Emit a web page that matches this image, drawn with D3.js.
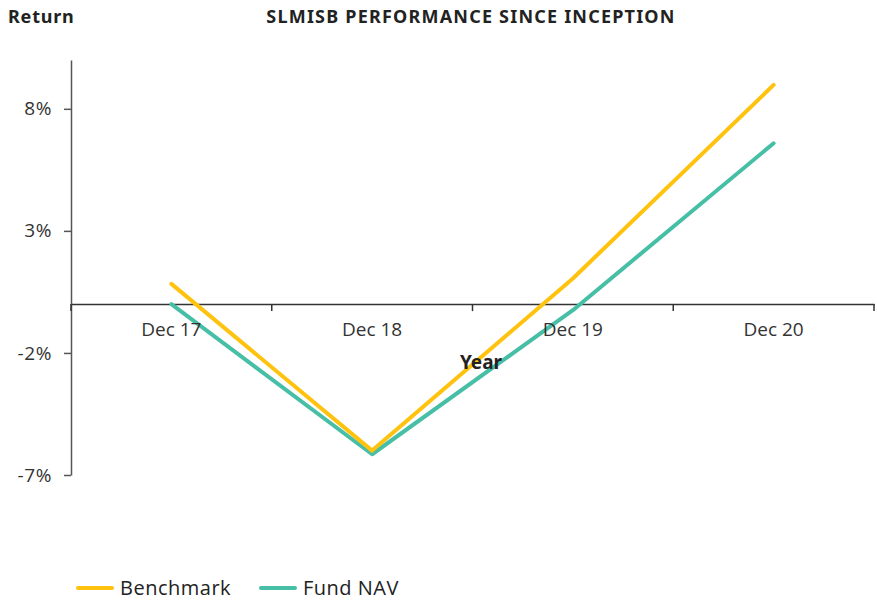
<!DOCTYPE html>
<html>
<head>
<meta charset="utf-8">
<script src="https://cdn.jsdelivr.net/npm/d3@7"></script>
<style>
body { margin: 0; background: #fff; }
svg { display: block; font-family: "Noto Sans", "Open Sans", sans-serif; }
</style>
</head>
<body>
<svg id="chart" width="877" height="600"></svg>
<script>
const categories = ["Dec 17", "Dec 18", "Dec 19", "Dec 20"];
const benchmark = [0.83, -6.0, 1.05, 8.98];
const fundNav = [0.0, -6.15, -0.25, 6.59];
const yTicks = [8, 3, -2, -7];
const seriesNames = ["Benchmark", "Fund NAV"];
const colors = ["#FFC20E", "#47BFA6"];

const svg = d3.select("#chart");
const mLeft = 71, mRight = 874, mTop = 60, mBottom = 475;

const x = d3.scaleBand().domain(categories).range([mLeft, mRight]);
const y = d3.scaleLinear().domain([-7, 10]).range([mBottom, mTop]);

// title
svg.append("text").attr("x", 471).attr("y", 23).attr("text-anchor", "middle")
  .attr("font-size", 18).attr("font-weight", "bold").attr("fill", "#222")
  .attr("letter-spacing", 1.2)
  .text("SLMISB PERFORMANCE SINCE INCEPTION");
svg.append("text").attr("x", 8).attr("y", 23)
  .attr("font-size", 18).attr("font-weight", "bold").attr("fill", "#222")
  .attr("letter-spacing", 0.8)
  .text("Return");

// y axis
const yAxis = svg.append("g").attr("transform", `translate(${mLeft},0)`)
  .call(d3.axisLeft(y).tickValues(yTicks).tickFormat(d => d + "%").tickSize(7).tickSizeOuter(0));
yAxis.select(".domain").attr("stroke", "#555").attr("stroke-width", 1.5);
yAxis.selectAll(".tick line").attr("stroke", "#555").attr("stroke-width", 1.5);
yAxis.selectAll(".tick text").attr("font-size", 19).attr("fill", "#333").attr("x", -19)
  .attr("letter-spacing", 0.6)
  .attr("font-family", "'Open Sans', sans-serif");

// x axis line at y=0
const xAxis = svg.append("g").attr("transform", `translate(0,${y(0)})`)
  .call(d3.axisBottom(x).tickSize(0).tickSizeOuter(0).tickFormat(""));
xAxis.select(".domain").attr("stroke", "#333").attr("stroke-width", 1.5);
// boundary ticks
const bounds = categories.map(c => x(c)).concat([x.range()[1]]);
xAxis.selectAll(".btick").data(bounds).join("line").attr("class", "btick")
  .attr("x1", d => d).attr("x2", d => d).attr("y1", 0).attr("y2", 7)
  .attr("stroke", "#333").attr("stroke-width", 1.5);

// lines
const line = d3.line().x((d, i) => x(categories[i]) + x.bandwidth() / 2).y(d => y(d));
[fundNav, benchmark].forEach((s, k) => {
  const idx = k === 0 ? 1 : 0;
  svg.append("path").datum(s).attr("d", line).attr("fill", "none")
    .attr("stroke", colors[idx]).attr("stroke-width", 4).attr("stroke-linecap", "round")
    .attr("stroke-linejoin", "round");
});

// x tick labels (drawn above the lines)
const xLabels = svg.append("g").attr("transform", `translate(0,${y(0)})`)
  .call(d3.axisBottom(x).tickSize(0).tickSizeOuter(0));
xLabels.select(".domain").remove();
xLabels.selectAll(".tick text").attr("font-size", 19).attr("fill", "#333").attr("dy", "1.5em")
  .attr("font-family", "'Open Sans', sans-serif");

// x axis title
svg.append("text").attr("x", 481).attr("y", 369).attr("text-anchor", "middle")
  .attr("font-size", 19).attr("font-weight", "bold").attr("fill", "#222").text("Year");

// legend
const legendX = [78, 261];
seriesNames.forEach((n, i) => {
  svg.append("line").attr("x1", legendX[i]).attr("x2", legendX[i] + 34)
    .attr("y1", 588).attr("y2", 588).attr("stroke", colors[i]).attr("stroke-width", 4)
    .attr("stroke-linecap", "round");
  svg.append("text").attr("x", legendX[i] + 42).attr("y", 595).attr("font-size", 20)
    .attr("letter-spacing", 0.5)
    .attr("fill", "#222").attr("font-family", "'Open Sans', sans-serif").text(n);
});
</script>
</body>
</html>
